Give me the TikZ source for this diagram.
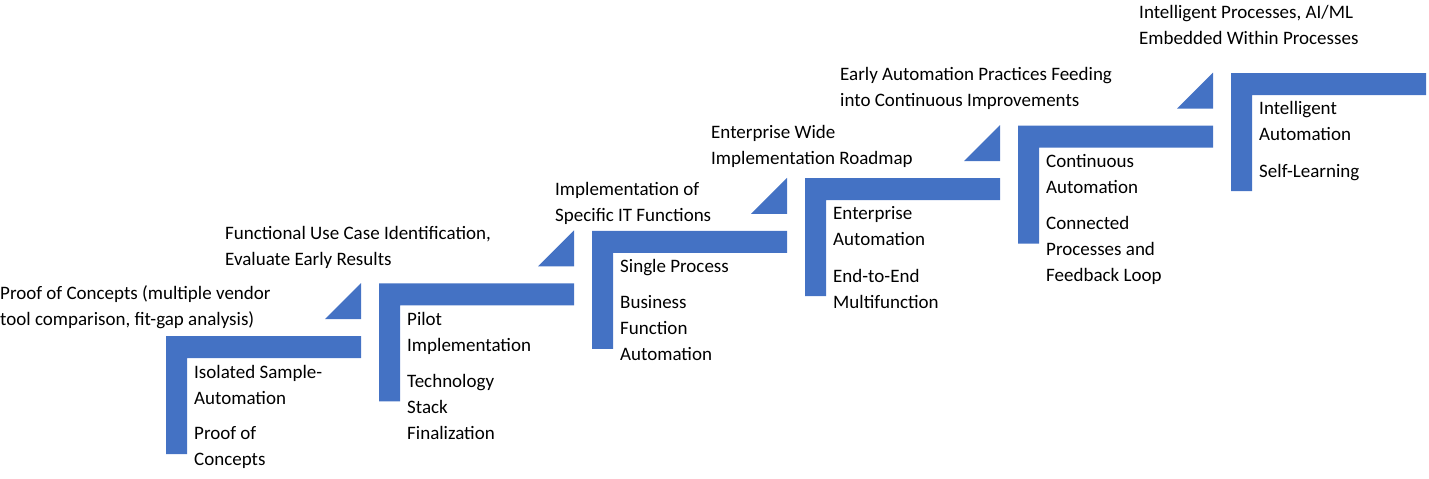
\documentclass[tikz,border=0pt]{standalone}
\usepackage{fontspec}
\setmainfont{Carlito}
\definecolor{stepblue}{HTML}{4472C4}
\begin{document}
\begin{tikzpicture}[x=1pt,y=-1pt,
  bar/.style={fill=stepblue,draw=none},
  lbl/.style={anchor=north west,inner sep=0pt,align=left,font=\fontsize{19}{26}\selectfont,text=black}]
\useasboundingbox (0,0) rectangle (1429,479);
\foreach \i in {0,...,5}{
  \pgfmathsetmacro{\X}{166+213*\i}
  \pgfmathsetmacro{\Y}{336-52.6*\i}
  \fill[stepblue] (\X,\Y) -- ++(195,0) -- ++(0,22) -- ++(-174,0) -- ++(0,96) -- ++(-21,0) -- cycle;
}
\foreach \i in {0,...,4}{
  \pgfmathsetmacro{\X}{361+213*\i}
  \pgfmathsetmacro{\Y}{283-52.6*\i}
  \fill[stepblue] (\X,\Y) -- ++(0,36) -- ++(-36,0) -- cycle;
}
\node[lbl] (t1) at (0,285) {Proof of Concepts (multiple vendor\\tool comparison, fit-gap analysis)};
\node[lbl] (t2) at (225,226) {Functional Use Case Identification,\\Evaluate Early Results};
\node[lbl] (t3) at (555,182) {Implementation of\\Specific IT Functions};
\node[lbl] (t4) at (711,125) {Enterprise Wide\\Implementation Roadmap};
\node[lbl] (t5) at (840,67) {Early Automation Practices Feeding\\into Continuous Improvements};
\node[lbl] (t6) at (1139,5) {Intelligent Processes, AI/ML\\Embedded Within Processes};
\node[lbl] (a1) at (194,365) {Isolated Sample-\\Automation};
\node[lbl] (b1) at (194,426) {Proof of\\Concepts};
\node[lbl] (a2) at (407,312) {Pilot\\Implementation};
\node[lbl] (b2) at (407,374) {Technology\\Stack\\Finalization};
\node[lbl] (a3) at (620,259) {Single Process};
\node[lbl] (b3) at (620,295) {Business\\Function\\Automation};
\node[lbl] (a4) at (833,206) {Enterprise\\Automation};
\node[lbl] (b4) at (833,269) {End-to-End\\Multifunction};
\node[lbl] (a5) at (1046,154) {Continuous\\Automation};
\node[lbl] (b5) at (1046,216) {Connected\\Processes and\\Feedback Loop};
\node[lbl] (a6) at (1259,101) {Intelligent\\Automation};
\node[lbl] (b6) at (1259,164) {Self-Learning};
\end{tikzpicture}
\end{document}
